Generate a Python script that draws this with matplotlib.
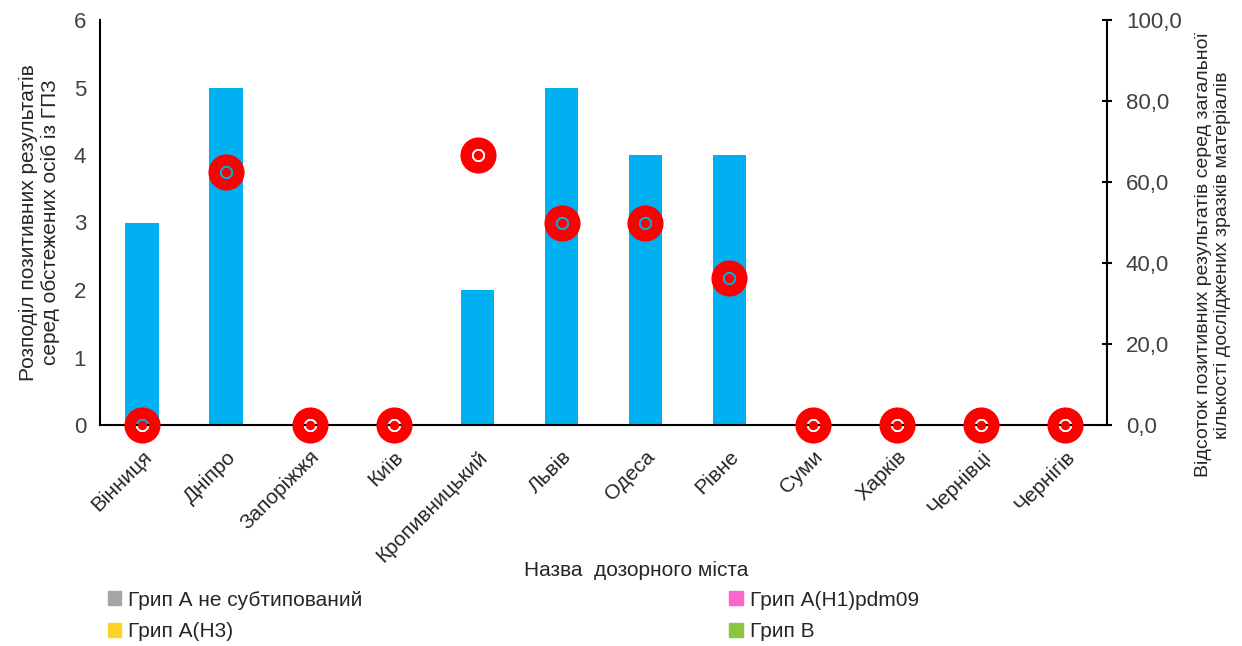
import numpy as np
import matplotlib
matplotlib.use("Agg")
import matplotlib.pyplot as plt
from matplotlib.path import Path
from matplotlib.patches import Patch
from matplotlib.ticker import FuncFormatter

plt.rcParams['font.family'] = ['Liberation Sans', 'DejaVu Sans']

# data
cities = ['Вінниця', 'Дніпро', 'Запоріжжя', 'Київ', 'Кропивницький', 'Львів',
          'Одеса', 'Рівне', 'Суми', 'Харків', 'Чернівці', 'Чернігів']
positives = [3, 5, 0, 0, 2, 5, 4, 4, 0, 0, 0, 0]
percent = [0.0, 62.5, 0.0, 0.0, 66.7, 50.0, 50.0, 36.4, 0.0, 0.0, 0.0, 0.0]
legend_names = ['Грип А не субтипований', 'Грип А(Н1)pdm09', 'Грип А(Н3)', 'Грип В']
legend_colors = ['#A5A5A5', '#FF66CC', '#FFD326', '#8CC63F']

# ring marker: red disc, clear ring, red dot in the middle
outer = Path.circle((0, 0), 1.0)
hole = Path(Path.circle((0, 0), 0.36).vertices[::-1])
dot = Path.circle((0, 0), 0.26)
ring_marker = Path.make_compound_path(outer, hole, dot)

fig = plt.figure(figsize=(12.42, 6.46), dpi=100)
ax = fig.add_axes([100 / 1242, 1 - 425 / 646, 1007 / 1242, 405 / 646])
x = np.arange(len(cities))
ax.bar(x, positives, width=0.4, color='#00B0F0', zorder=2)
ax.set_xlim(-0.5, len(cities) - 0.5)
ax.set_ylim(0, 6)
ax.set_yticks(range(7))
ax.tick_params(axis='y', length=0, labelsize=16, pad=10, colors='#404040')
ax.tick_params(axis='x', length=0, labelsize=15, pad=16, colors='#262626')
ax.set_xticks(x)
ax.set_xticklabels(cities, rotation=45, ha='right', rotation_mode='anchor')
for s in ['top', 'right']:
    ax.spines[s].set_visible(False)
ax.spines['left'].set_linewidth(1.5)
ax.spines['bottom'].set_linewidth(1.5)
ax.set_ylabel('Розподіл позитивних результатів\nсеред обстежених осіб із ГПЗ', fontsize=15,
              labelpad=10, color='#262626')
ax.set_xlabel('Назва  дозорного міста', fontsize=15, color='#262626')
ax.xaxis.set_label_coords(0.532, -0.335)

ax2 = ax.twinx()
ax2.plot(x, percent, linestyle='none', marker=ring_marker, markersize=26,
         color='#FF0000', markeredgewidth=0, zorder=5, clip_on=False)
ax2.set_ylim(0, 100)
ax2.set_yticks(range(0, 101, 20))
ax2.yaxis.set_major_formatter(FuncFormatter(lambda v, p: f'{v:.1f}'.replace('.', ',')))
ax2.tick_params(axis='y', direction='inout', length=7, width=1.5, labelsize=16, pad=10,
                labelcolor='#404040', color='black')
for s in ['top', 'left', 'bottom']:
    ax2.spines[s].set_visible(False)
ax2.spines['right'].set_linewidth(1.5)
ax2.set_ylabel('Відсоток позитивних результатів серед загальної\nкількості досліджених зразків матеріалів',
               fontsize=14, color='#262626')
ax2.yaxis.set_label_coords(1.087, 0.42)

order = [0, 2, 1, 3]
handles = [Patch(color=legend_colors[i], label=legend_names[i]) for i in order]
fig.legend(handles=handles, loc='lower left', bbox_to_anchor=(95 / 1242, -0.012), ncol=2,
           frameon=False, fontsize=15, handlelength=0.65, handleheight=0.65, handletextpad=0.35,
           columnspacing=17.6, labelspacing=0.6, borderaxespad=0.2, labelcolor='#262626')

fig.savefig('out.png', dpi=100)
